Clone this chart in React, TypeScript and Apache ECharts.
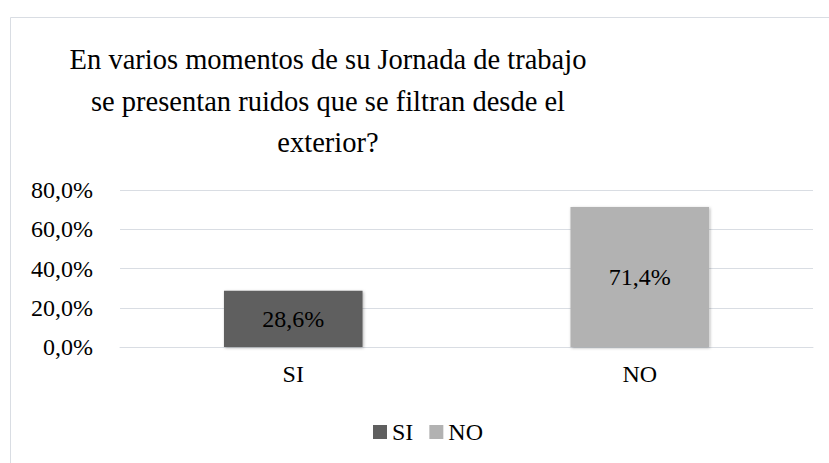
import React, { useEffect, useRef } from "react";
import * as echarts from "echarts";

const categories = ["SI", "NO"];
const values = [28.6, 71.4];
const barColors = ["#5F5F5F", "#B2B2B2"];
const titleText = "En varios momentos de su Jornada de trabajo\nse presentan ruidos que se filtran desde el\nexterior?";
const FONT = "'Times New Roman', 'Liberation Serif', serif";

const fmt = (v: number) => v.toFixed(1).replace(".", ",") + "%";

export default function App() {
  const ref = useRef<HTMLDivElement>(null);
  useEffect(() => {
    if (!ref.current) return;
    const chart = echarts.init(ref.current, undefined, { renderer: "svg" });
    chart.setOption({
      animation: false,
      backgroundColor: "#ffffff",
      textStyle: { fontFamily: FONT },
      title: {
        text: titleText,
        left: 328,
        top: 39,
        textAlign: "center",
        padding: 0,
        textStyle: {
          fontFamily: FONT,
          fontSize: 28.5,
          fontWeight: "normal",
          color: "#000000",
          lineHeight: 41.5,
        },
      },
      graphic: [
        {
          type: "rect",
          shape: { x: 10.5, y: 17.5, width: 840, height: 480 },
          style: { fill: "none", stroke: "#D9DDE3", lineWidth: 1 },
          silent: true,
          z: -1,
        },
      ],
      legend: {
        data: categories,
        left: 373,
        top: 420,
        padding: 0,
        itemWidth: 14,
        itemHeight: 14,
        itemGap: 16,
        icon: "rect",
        textStyle: { fontFamily: FONT, fontSize: 24, color: "#000000" },
      },
      grid: { left: 120, right: 16, top: 190, bottom: 116, containLabel: false },
      xAxis: {
        type: "category",
        data: categories,
        axisLine: { show: true, lineStyle: { color: "#D9DDE3", width: 1 } },
        axisTick: { show: false },
        axisLabel: { fontFamily: FONT, fontSize: 24, color: "#000000", margin: 15 },
      },
      yAxis: {
        type: "value",
        min: 0,
        max: 80,
        interval: 20,
        axisLine: { show: false },
        axisTick: { show: false },
        splitLine: { lineStyle: { color: "#D9DDE3", width: 1 } },
        axisLabel: {
          fontFamily: FONT,
          fontSize: 24,
          color: "#000000",
          margin: 27,
          formatter: (v: number) => fmt(v),
        },
      },
      series: categories.map((c, i) => ({
        name: c,
        type: "bar",
        stack: "all",
        barWidth: "40%",
        data: categories.map((_, j) => (j === i ? values[i] : null)),
        itemStyle: {
          color: barColors[i],
          shadowBlur: 3,
          shadowOffsetX: 1,
          shadowOffsetY: 1,
          shadowColor: "rgba(0,0,0,0.3)",
        },
        label: {
          show: true,
          position: "inside",
          fontFamily: FONT,
          fontSize: 24,
          color: "#000000",
          formatter: (p: any) => fmt(p.value),
        },
      })),
    });
    return () => chart.dispose();
  }, []);
  return (
    <div
      ref={ref}
      style={{ position: "absolute", left: 0, top: 0, width: 829, height: 463 }}
    />
  );
}
